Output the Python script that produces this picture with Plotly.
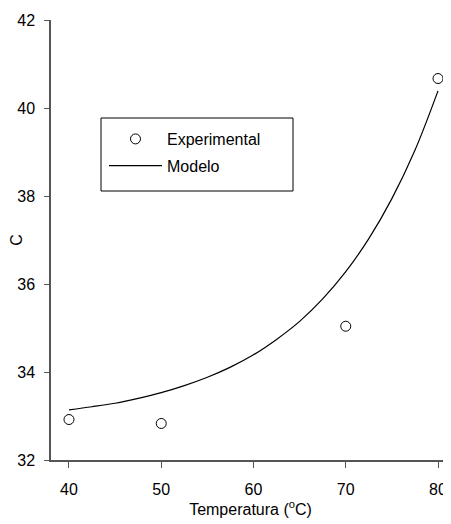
import plotly.graph_objects as go

# Experimental data
temp_exp = [40, 50, 70, 80]
c_exp = [32.92, 32.83, 35.04, 40.67]

# Model curve
temp_model = [40, 42.5, 45, 47.5, 50, 52.5, 55, 57.5, 60, 62.5, 65, 67.5, 70, 72.5, 75, 77.5, 80]
c_model = [33.14, 33.21, 33.29, 33.40, 33.53, 33.69, 33.88, 34.11, 34.39, 34.74, 35.15,
           35.66, 36.28, 37.03, 37.94, 39.04, 40.39]

x_ticks = [40, 50, 60, 70, 80]
y_ticks = [32, 34, 36, 38, 40, 42]

# The page body has an 8px margin, so the figure starts at (8, 8) in the window.
OFF = 8
W, H = 451 - OFF, 524 - OFF
L, R, T, B = 51 - OFF, 1, 20 - OFF, 64
pw = W - L - R
ph = H - T - B

def px_x(p):  # window pixel -> paper fraction
    return (p - OFF - L) / pw

def px_y(p):
    return (H - B - (p - OFF)) / ph

font = dict(family="Liberation Sans, Arial, sans-serif", size=16, color="black")

fig = go.Figure()
fig.add_trace(go.Scatter(
    x=temp_exp, y=c_exp, mode="markers", name="Experimental", legendgroup="a",
    marker=dict(symbol="circle", size=10, color="white",
                line=dict(color="black", width=1)),
))
fig.add_trace(go.Scatter(
    x=temp_model, y=c_model, mode="lines", name="Modelo", legendgroup="b",
    line=dict(color="black", width=1.2, shape="spline"),
))

fig.update_layout(
    width=W, height=H,
    margin=dict(l=L, r=R, t=T, b=B, autoexpand=False),
    paper_bgcolor="white", plot_bgcolor="white",
    font=font,
    showlegend=True,
    legend=dict(
        x=px_x(104), y=px_y(122), xanchor="left", yanchor="top",
        bgcolor="rgba(0,0,0,0)", borderwidth=0,
        itemwidth=53, traceorder="grouped", tracegroupgap=3,
        font=font,
    ),
    shapes=[dict(
        type="rect", xref="paper", yref="paper",
        x0=px_x(101), x1=px_x(293), y0=px_y(191), y1=px_y(118),
        line=dict(color="black", width=1), fillcolor="rgba(0,0,0,0)",
        layer="above",
    )],
)

fig.update_xaxes(
    range=[38.05, 81.3], tickvals=x_ticks, ticks="outside", ticklen=6,
    tickwidth=1, tickcolor="#555", showline=True, linecolor="#555", linewidth=1.5,
    showgrid=False, zeroline=False, ticklabelstandoff=8, automargin=False,
    title=dict(text="Temperatura (<sup>o</sup>C)", font=font, standoff=4),
)
fig.update_yaxes(
    range=[32, 42], tickvals=y_ticks, ticks="outside", ticklen=5,
    tickwidth=1, tickcolor="#555", showline=True, linecolor="#555", linewidth=1.5,
    showgrid=False, zeroline=False, ticklabelstandoff=6, automargin=False,
    title=dict(text="C", font=font, standoff=0),
)

fig.write_html("out.html")
